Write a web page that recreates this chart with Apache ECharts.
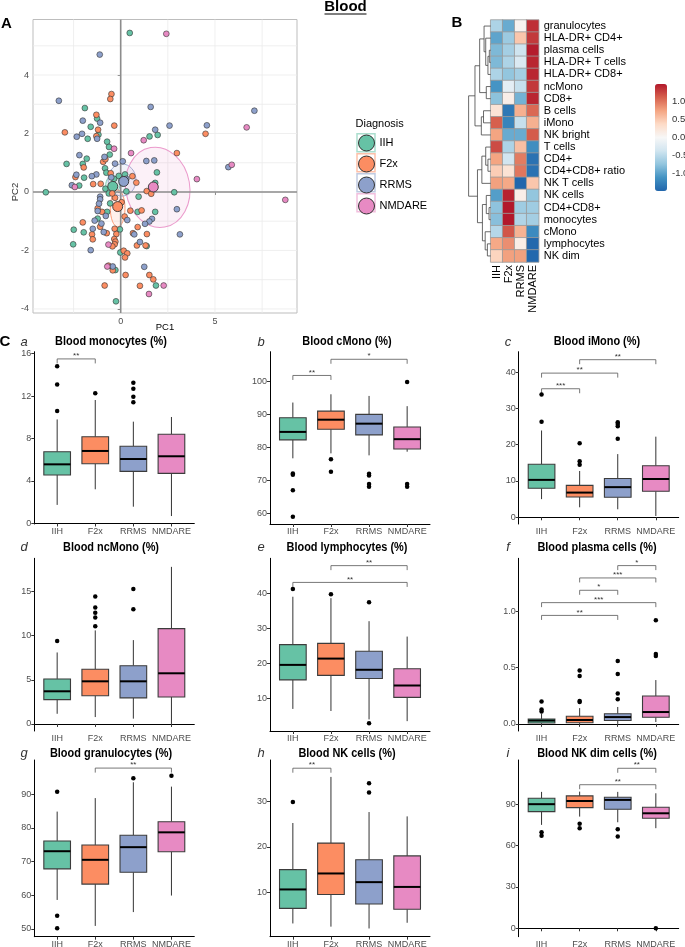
<!DOCTYPE html>
<html><head><meta charset="utf-8">
<script src="https://cdn.jsdelivr.net/npm/echarts@6/dist/echarts.min.js"></script>
<style>html,body{margin:0;padding:0;background:#fff}#c{width:685px;height:947px}</style>
</head><body><div id="c"></div>
<script>
const SANS = "'Liberation Sans', Arial, Helvetica, sans-serif";
const NARROW = "'Liberation Sans Narrow', 'Arial Narrow', 'Liberation Sans', Arial, sans-serif";

const GROUPS = ['IIH', 'F2x', 'RRMS', 'NMDARE'];
const COLORS = ['#66C2A5', '#FC8D62', '#8DA0CB', '#E78AC3'];

// ---------- Panel A: PCA ----------
const PCA_IIH = [[0.48,5.44],[-1.90,2.87],[-1.25,2.51],[-1.59,2.23],[-1.75,1.82],[-1.18,1.96],[1.53,1.90],[1.96,1.95],[-0.72,1.72],[-0.62,1.54],[-1.80,1.14],[-0.58,1.28],[-2.87,0.96],[-2.01,0.96],[-1.94,0.49],[-0.83,0.81],[-0.76,0.66],[0.23,0.60],[1.92,0.67],[-2.20,0.22],[-3.97,-0.01],[-0.81,0.11],[-0.63,-0.05],[1.83,0.31],[2.84,-0.01],[0.30,0.02],[0.95,-0.16],[-0.56,-0.39],[-0.72,-0.68],[0.90,-0.68],[1.83,-0.68],[-1.22,-0.91],[-2.49,-1.29],[-1.96,-1.38],[-0.04,-1.28],[1.38,-1.85],[-2.52,-1.79],[-0.02,-2.07],[-0.39,-2.64],[-0.28,-2.67],[1.87,-3.20],[-0.25,-3.74],[-0.35,0.45],[-0.10,0.55],[0.10,0.30]];
const PCA_F2X = [[-0.49,3.35],[-0.55,3.18],[-1.29,2.64],[-0.34,2.27],[-1.20,2.13],[-2.96,2.04],[4.50,1.99],[-1.29,1.91],[2.98,1.33],[-1.96,0.84],[-0.93,1.03],[-0.81,1.12],[-2.40,0.51],[-0.53,0.64],[0.62,0.54],[-1.46,0.27],[-1.06,0.28],[0.83,0.32],[1.38,0.03],[1.62,-0.06],[-1.22,-0.56],[-0.99,-0.68],[0.51,-0.64],[1.11,-0.63],[0.21,-0.84],[-2.01,-1.04],[-1.52,-1.45],[-1.48,-1.62],[-1.09,-1.19],[-0.74,-1.41],[-0.32,-1.26],[-0.23,-1.44],[-0.34,-1.61],[-0.28,-1.70],[-0.32,-1.79],[-0.44,-1.86],[0.65,-1.41],[0.90,-1.20],[1.39,-1.44],[0.86,-1.83],[1.32,-1.83],[0.16,-2.01],[0.35,-2.10],[0.23,-2.24],[-0.65,-2.52],[-0.42,-2.68],[0.26,-2.84],[1.52,-2.84],[1.73,-2.99],[1.02,-3.21],[-0.85,-3.20],[-0.30,-0.20],[0.05,-0.35],[-0.45,-0.05]];
const PCA_RRMS = [[-1.11,4.70],[-3.28,3.12],[1.59,2.91],[7.09,2.78],[-1.09,2.37],[-2.01,2.44],[2.59,2.27],[4.57,2.28],[1.83,2.13],[-2.33,1.89],[-2.05,1.99],[-1.25,1.82],[-2.19,1.26],[-0.86,1.20],[0.11,1.05],[1.36,1.06],[1.78,1.08],[-0.30,0.97],[5.71,0.85],[-2.35,0.59],[-1.29,0.60],[-1.53,0.54],[-2.59,0.23],[-1.09,-0.16],[-1.09,-0.25],[-1.15,-0.40],[-1.22,-0.65],[2.98,-0.59],[-0.79,-0.82],[0.35,-0.96],[1.66,-0.92],[1.52,-1.01],[1.29,-1.09],[-1.38,-0.98],[-1.02,-1.08],[-1.48,-1.26],[-0.90,-1.37],[0.72,-1.45],[1.02,-1.71],[3.14,-1.45],[-1.59,-1.99],[-0.42,-2.55],[1.25,-2.56],[-0.50,0.50],[0.30,0.45]];
const PCA_NMDARE = [[2.42,5.41],[6.68,2.21],[1.22,1.77],[-0.35,1.48],[0.55,1.33],[5.89,0.93],[4.04,0.44],[-2.43,0.17],[8.73,-0.27],[-0.65,-1.80],[-0.71,-2.55],[2.28,-3.20],[1.50,-3.49]];
const PCA_MEANS = [[-0.42,0.19],[-0.16,-0.50],[0.16,0.36],[1.73,0.17]];
// ellipse: [cx, cy, rx, ry, rotationDeg]
const PCA_ELLIPSES = [[-0.42,0.24,0.37,0.31,0],[-0.16,-0.56,0.39,0.63,0],[0.07,0.41,0.74,0.55,0],[1.96,0.16,1.70,1.38,-10]];
const PCA_XGRID = [-2.5, 0, 2.5, 5, 7.5];
const PCA_YGRID = [-4, -3, -2, -1, 0, 1, 2, 3, 4, 5];
const PCA_XTICKS = [0, 5];
const PCA_YTICKS = [-4, -2, 0, 2, 4];

// ---------- Panel B: heatmap ----------
const HEAT_ROWS = ['granulocytes','HLA-DR+ CD4+','plasma cells','HLA-DR+ T cells','HLA-DR+ CD8+','ncMono','CD8+','B cells','iMono','NK bright','T cells','CD4+','CD4+CD8+ ratio','NK T cells','NK cells','CD4+CD8+','monocytes','cMono','lymphocytes','NK dim'];
const HEAT = [
  [-0.60,-0.95,0.05,1.35],
  [-1.00,-0.70,0.50,1.30],
  [-0.85,-0.65,-0.40,1.45],
  [-0.85,-0.60,-0.30,1.40],
  [-0.60,-0.75,-0.65,1.40],
  [-1.12,-0.20,-0.45,1.30],
  [-0.78,0.10,-0.90,1.40],
  [0.25,-1.35,0.65,1.05],
  [1.10,-1.25,-0.45,0.65],
  [0.73,-0.95,-0.95,1.12],
  [1.20,-0.60,0.55,-1.17],
  [0.73,-0.38,0.95,-1.40],
  [0.45,0.25,0.98,-1.40],
  [0.75,0.70,-1.50,0.50],
  [-1.05,1.42,0.10,-0.75],
  [-0.77,1.47,-0.68,-0.68],
  [-0.80,1.47,-0.58,-0.65],
  [-0.55,1.15,0.63,-1.20],
  [0.70,0.85,0.12,-1.48],
  [0.40,0.75,0.75,-1.48]
];
// dendrogram merges: [childA, childB, height]; ids >= 20 are earlier merges
const TREE_MERGES = [[2,3,0.25],[20,4,0.5],[1,21,0.9],[0,22,1.2],[5,6,0.8],[23,24,2.0],[7,8,1.3],[26,9,1.7],[25,27,2.85],[11,12,0.5],[10,29,0.9],[30,13,1.6],[15,16,0.3],[14,32,0.8],[18,19,0.6],[17,34,1.0],[33,35,1.5],[31,36,2.4],[28,37,4.0]];
const COLORBAR_TICKS = [-1, -0.5, 0, 0.5, 1];
const RDBU = ['#2166AC','#4393C3','#92C5DE','#D1E5F0','#F7F7F7','#FDDBC7','#F4A582','#D6604D','#B2182B'];

// ---------- Panel C: box plots [x, low, q1, median, q3, high] ----------
const BOX_A = [[1,1.75,4.57,5.57,6.76,9.8],[2,3.22,5.63,6.83,8.17,11.63],[3,1.58,4.91,6.07,7.27,9.59],[4,0.7,4.72,6.33,8.4,10.03]];
const OUT_A = [[10.6,13.1,14.8],[12.26],[11.41,11.94,12.7,13.26],[]];
const SIG_A = [[1,2,15.5]]; const SIGLAB_A = ['**'];

const BOX_B = [[1,76.6,82.2,84.6,88.9,93.5],[2,78.1,85.4,88.3,90.9,96.0],[3,77.5,83.7,87.1,89.9,95.5],[4,78.6,79.4,82.4,86.1,92.4]];
const OUT_B = [[72.0,71.6,66.9,58.9],[76.3,72.5],[71.9,71.4,68.8,68.0],[99.7,68.8,68.0]];
const SIG_B = [[1,2,101.7],[2,4,106.6]]; const SIGLAB_B = ['**','*'];

const BOX_C = [[1,5.0,8.0,10.3,14.6,23.9],[2,2.75,5.6,6.8,8.8,12.75],[3,2.2,5.5,8.3,10.7,17.4],[4,0.35,7.15,10.55,14.2,22.2]];
const OUT_C = [[26.3,33.8],[20.4,15.4,14.5],[26.2,25.7,25.1,21.6],[]];
const SIG_C = [[1,2,35.4],[1,3,39.7],[2,4,43.4]]; const SIGLAB_C = ['***','**','**'];

const BOX_D = [[1,1.15,2.75,3.7,5.1,8.1],[2,0.78,3.2,4.83,6.2,10.6],[3,0.6,2.95,4.83,6.6,9.5],[4,0.0,3.05,5.74,10.8,17.8]];
const OUT_D = [[9.4],[14.45,13.2,12.6,12.07,11.08],[15.3,13.0],[]];
const SIG_D = []; const SIGLAB_D = [];

const BOX_E = [[1,7.0,15.3,19.6,25.4,39.1],[2,6.4,16.6,21.4,25.75,38.7],[3,4.0,15.7,18.2,23.5,32.1],[4,3.5,10.3,13.7,18.5,27.7]];
const OUT_E = [[41.3],[39.8],[37.5,2.9],[]];
const SIG_E = [[2,4,48.0],[1,4,43.2]]; const SIGLAB_E = ['**','**'];

const BOX_F = [[1,0.0,0.007,0.029,0.043,0.09],[2,0.0,0.01,0.034,0.067,0.14],[3,0.0,0.03,0.06,0.09,0.15],[4,0.016,0.058,0.105,0.248,0.39]];
const OUT_F = [[0.20,0.127,0.11],[0.475,0.427,0.203,0.195],[0.56,0.445,0.27,0.22],[0.924,0.623,0.605]];
const SIG_F = [[3,4,1.41],[2,4,1.30],[2,3,1.19],[1,4,1.08],[1,3,0.966]]; const SIGLAB_F = ['*','***','*','***','**'];

const BOX_G = [[1,58.6,67.8,73.05,76.1,84.8],[2,50.9,63.3,70.5,74.9,88.8],[3,55.0,66.8,74.25,77.8,93.5],[4,59.9,72.9,78.65,81.8,92.2]];
const OUT_G = [[90.7,53.9,50.2],[],[94.7],[95.4]];
const SIG_G = [[2,4,97.7]]; const SIGLAB_G = ['**'];

const BOX_H = [[1,3.2,6.5,10.65,15.0,25.2],[2,2.5,9.55,14.15,20.8,35.3],[3,2.1,7.45,12.25,17.15,27.6],[4,3.35,6.3,11.2,18.0,26.65]];
const OUT_H = [[29.8],[],[33.9,31.9],[]];
const SIG_H = [[1,2,37.2]]; const SIGLAB_H = ['**'];

const BOX_I = [[1,74.9,84.5,89.9,94.2,98.8],[2,80.9,87.4,92.2,95.9,99.0],[3,76.8,86.2,93.0,94.9,98.8],[4,72.5,79.7,83.3,87.7,97.8]];
const OUT_I = [[69.6,67.1],[75.8,72.5],[71.7,66.4],[0]];
const SIG_I = [[3,4,115.9],[2,4,104]]; const SIGLAB_I = ['**','**'];

const PANEL_TITLES = ['Blood monocytes (%)','Blood cMono (%)','Blood iMono (%)','Blood ncMono (%)','Blood lymphocytes (%)','Blood plasma cells (%)','Blood granulocytes (%)','Blood NK cells (%)','Blood NK dim cells (%)'];
const PANEL_LETTERS = ['a','b','c','d','e','f','g','h','i'];
const Y_MIN = [-0.05, 56.7, -1.85, -0.8, 0.68, -0.064, 47.7, 0.3, -6.1];
const Y_MAX = [16.18, 108.9, 45.6, 18.77, 50.1, 1.475, 100.1, 39.0, 121.9];
const Y_TICKS = [[0,4,8,12,16],[60,70,80,90,100],[0,10,20,30,40],[0,5,10,15],[10,20,30,40],[0,0.5,1.0],[50,60,70,80,90],[10,20,30],[0,30,60,90]];
const Y_DEC = [0,0,0,0,0,1,0,0,0];
const X_TICKS = [1,2,3,4];

const BOXES = [BOX_A,BOX_B,BOX_C,BOX_D,BOX_E,BOX_F,BOX_G,BOX_H,BOX_I];
const OUTS = [OUT_A,OUT_B,OUT_C,OUT_D,OUT_E,OUT_F,OUT_G,OUT_H,OUT_I];
const SIGS = [SIG_A,SIG_B,SIG_C,SIG_D,SIG_E,SIG_F,SIG_G,SIG_H,SIG_I];
const SIGLABS = [SIGLAB_A,SIGLAB_B,SIGLAB_C,SIGLAB_D,SIGLAB_E,SIGLAB_F,SIGLAB_G,SIGLAB_H,SIGLAB_I];

// ---------- layout ----------
const COL_LEFT = [34.3, 270, 518.7];
const COL_W = 160;
const ROW_TOP = [351.7, 558.3, 760];
const ROW_BOT = [524, 731, 936.7];
const TITLE_X = [111, 347, 597];
const TITLE_Y = [342, 547.7, 753.3];
const LETTER_X = [24, 261, 508];

function alpha(hex, a) {
  const n = parseInt(hex.slice(1), 16);
  return 'rgba(' + ((n >> 16) & 255) + ',' + ((n >> 8) & 255) + ',' + (n & 255) + ',' + a + ')';
}

const grids = [], xAxes = [], yAxes = [], series = [], graphics = [];
const G = (o) => Object.assign({containLabel: false, outerBoundsMode: 'none'}, o);

// ===== PCA grid 0 =====
grids.push(G({left: 33, top: 19.5, width: 264, height: 293.5, show: true, borderColor: '#bdbdbd', borderWidth: 1, backgroundColor: '#fff'}));
xAxes.push({gridIndex: 0, type: 'value', min: -4.65, max: 9.35, axisLine: {show: false}, splitLine: {show: false},
  axisTick: {show: true, length: 3, lineStyle: {color: '#555'}, customValues: PCA_XTICKS},
  axisLabel: {customValues: PCA_XTICKS, fontSize: 9, color: '#4d4d4d', margin: 4, fontFamily: SANS}});
yAxes.push({gridIndex: 0, type: 'value', min: -4.14, max: 5.90, axisLine: {show: false}, splitLine: {show: false},
  axisTick: {show: true, length: 3, lineStyle: {color: '#555'}, customValues: PCA_YTICKS},
  axisLabel: {customValues: PCA_YTICKS, fontSize: 9, color: '#4d4d4d', margin: 4, fontFamily: SANS}});

series.push({type: 'custom', xAxisIndex: 0, yAxisIndex: 0, silent: true, z: 1,
  data: PCA_XGRID.map(v => [v, 0]),
  renderItem: (p, api) => { const x = api.coord([api.value(0), 0])[0]; const cs = p.coordSys;
    return {type: 'line', shape: {x1: x, y1: cs.y, x2: x, y2: cs.y + cs.height}, style: {stroke: '#ebebeb', lineWidth: 0.8}}; }});
series.push({type: 'custom', xAxisIndex: 0, yAxisIndex: 0, silent: true, z: 1,
  data: PCA_YGRID.map(v => [0, v]),
  renderItem: (p, api) => { const y = api.coord([0, api.value(1)])[1]; const cs = p.coordSys;
    return {type: 'line', shape: {x1: cs.x, y1: y, x2: cs.x + cs.width, y2: y}, style: {stroke: '#ebebeb', lineWidth: 0.8}}; }});
series.push({type: 'custom', xAxisIndex: 0, yAxisIndex: 0, silent: true, z: 2,
  data: PCA_ELLIPSES,
  renderItem: (p, api) => {
    const c = api.coord([api.value(0), api.value(1)]);
    const s = api.size([api.value(2), api.value(3)]);
    const i = p.dataIndex;
    return {type: 'ellipse', x: c[0], y: c[1], rotation: -api.value(4) * Math.PI / 180,
      shape: {cx: 0, cy: 0, rx: s[0], ry: s[1]},
      style: {fill: alpha(COLORS[i], 0.12), stroke: alpha(COLORS[i], 0.85), lineWidth: 1}};
  }});
series.push({type: 'custom', xAxisIndex: 0, yAxisIndex: 0, silent: true, z: 2,
  data: [[0, 0]],
  renderItem: (p, api) => { const c = api.coord([api.value(0), api.value(1)]); const cs = p.coordSys;
    return {type: 'group', children: [
      {type: 'line', shape: {x1: c[0], y1: cs.y, x2: c[0], y2: cs.y + cs.height}, style: {stroke: '#8c8c8c', lineWidth: 1.6}},
      {type: 'line', shape: {x1: cs.x, y1: c[1], x2: cs.x + cs.width, y2: c[1]}, style: {stroke: '#8c8c8c', lineWidth: 1.6}}]}; }});
const PCA_PTS = [PCA_IIH, PCA_F2X, PCA_RRMS, PCA_NMDARE];
GROUPS.forEach((g, i) => {
  series.push({type: 'scatter', name: g, xAxisIndex: 0, yAxisIndex: 0, z: 3, silent: true,
    symbol: 'circle', symbolSize: 5.8,
    itemStyle: {color: COLORS[i], borderColor: '#333', borderWidth: 0.6, opacity: 1},
    data: PCA_PTS[i].concat([{value: PCA_MEANS[i], symbolSize: 10, itemStyle: {borderWidth: 0.9}}])});
});

// ===== Heatmap grid 1 =====
grids.push(G({left: 490.7, top: 20, width: 48, height: 242}));
xAxes.push({gridIndex: 1, type: 'category', data: GROUPS, position: 'bottom', axisLine: {show: false}, axisTick: {show: false}, splitLine: {show: false},
  axisLabel: {rotate: 90, margin: 3, fontSize: 11, color: '#000', fontFamily: SANS, interval: 0}});
yAxes.push({gridIndex: 1, type: 'category', data: HEAT_ROWS, inverse: true, position: 'right', axisLine: {show: false}, axisTick: {show: false}, splitLine: {show: false},
  axisLabel: {margin: 5, fontSize: 11, color: '#000', fontFamily: SANS, interval: 0}});
const heatData = [];
HEAT.forEach((row, r) => row.forEach((v, c) => heatData.push([c, r, v])));
const HEAT_SERIES = series.length;
series.push({type: 'heatmap', xAxisIndex: 1, yAxisIndex: 1, data: heatData, silent: true,
  itemStyle: {borderColor: '#9a9a9a', borderWidth: 0.8}});

// ===== Dendrogram grid 2 =====
grids.push(G({left: 462, top: 20, width: 28.7, height: 242}));
xAxes.push({gridIndex: 2, type: 'value', min: 0, max: 5.2, inverse: true, show: false});
yAxes.push({gridIndex: 2, type: 'value', min: -0.5, max: 19.5, inverse: true, show: false});
const nodeY = [], nodeH = [];
for (let i = 0; i < HEAT_ROWS.length; i++) { nodeY[i] = i; nodeH[i] = 0; }
const DEND_SEGS = [];
TREE_MERGES.forEach((m, k) => {
  const a = m[0], b = m[1], h = m[2], id = HEAT_ROWS.length + k;
  DEND_SEGS.push([nodeH[a], nodeY[a], h, nodeY[a]]);
  DEND_SEGS.push([nodeH[b], nodeY[b], h, nodeY[b]]);
  DEND_SEGS.push([h, nodeY[a], h, nodeY[b]]);
  nodeY[id] = (nodeY[a] + nodeY[b]) / 2; nodeH[id] = h;
});
series.push({type: 'custom', xAxisIndex: 2, yAxisIndex: 2, silent: true, data: DEND_SEGS,
  encode: {x: [0, 2], y: [1, 3]},
  renderItem: (p, api) => { const s = api.coord([api.value(0), api.value(1)]); const e = api.coord([api.value(2), api.value(3)]);
    return {type: 'line', shape: {x1: s[0], y1: s[1], x2: e[0], y2: e[1]}, style: {stroke: '#444', lineWidth: 0.8}}; }});

// ===== Colorbar label axis grid 3 =====
grids.push(G({left: 655, top: 84, width: 12, height: 107}));
xAxes.push({gridIndex: 3, type: 'value', show: false, min: 0, max: 1});
yAxes.push({gridIndex: 3, type: 'value', position: 'right', min: -1.5, max: 1.47, axisLine: {show: false}, axisTick: {show: false}, splitLine: {show: false},
  axisLabel: {customValues: COLORBAR_TICKS, formatter: v => Number(v).toFixed(1), margin: 5, fontSize: 9.5, color: '#333', fontFamily: SANS}});

// ===== Box plots grids 4..12 =====
function boxRender(p, api) {
  const x = api.value(0);
  const lo = api.coord([x, api.value(1)]), q1 = api.coord([x, api.value(2)]), md = api.coord([x, api.value(3)]);
  const q3 = api.coord([x, api.value(4)]), hi = api.coord([x, api.value(5)]);
  const half = api.size([0.7, 0])[0] / 2, cx = lo[0];
  return {type: 'group', children: [
    {type: 'line', shape: {x1: cx, y1: hi[1], x2: cx, y2: q3[1]}, style: {stroke: '#333', lineWidth: 1}},
    {type: 'line', shape: {x1: cx, y1: q1[1], x2: cx, y2: lo[1]}, style: {stroke: '#333', lineWidth: 1}},
    {type: 'rect', shape: {x: cx - half, y: q3[1], width: 2 * half, height: q1[1] - q3[1]}, style: {fill: COLORS[p.dataIndex], stroke: '#3c3c3c', lineWidth: 1.1}},
    {type: 'line', shape: {x1: cx - half, y1: md[1], x2: cx + half, y2: md[1]}, style: {stroke: '#000', lineWidth: 2}}
  ]};
}
function sigRender(labels) {
  return function (p, api) {
    const y = api.value(2);
    const p1 = api.coord([api.value(0), y]), p2 = api.coord([api.value(1), y]);
    const d = 4.5;
    return {type: 'group', children: [
      {type: 'polyline', shape: {points: [[p1[0], p1[1] + d], [p1[0], p1[1]], [p2[0], p2[1]], [p2[0], p2[1] + d]]}, style: {stroke: '#555', lineWidth: 0.8, fill: null}},
      {type: 'text', x: (p1[0] + p2[0]) / 2, y: p1[1] + 1, style: {text: labels[p.dataIndex], fill: '#333', font: '8px ' + SANS, textAlign: 'center', align: 'center', textVerticalAlign: 'bottom', verticalAlign: 'bottom'}}
    ]};
  };
}

for (let k = 0; k < 9; k++) {
  const r = Math.floor(k / 3), c = k % 3, gi = 4 + k;
  grids.push(G({left: COL_LEFT[c], top: ROW_TOP[r], width: COL_W, height: ROW_BOT[r] - ROW_TOP[r]}));
  xAxes.push({gridIndex: gi, type: 'value', min: 0.4, max: 4.6, splitLine: {show: false},
    axisLine: {show: true, lineStyle: {color: '#000', width: 1}},
    axisTick: {show: true, length: 3, lineStyle: {color: '#333'}, customValues: X_TICKS},
    axisLabel: {customValues: X_TICKS, formatter: v => GROUPS[Math.round(v) - 1], margin: 3, fontSize: 9, color: '#4d4d4d', fontFamily: NARROW}});
  const dec = Y_DEC[k];
  yAxes.push({gridIndex: gi, type: 'value', min: Y_MIN[k], max: Y_MAX[k], splitLine: {show: false},
    axisLine: {show: true, lineStyle: {color: '#000', width: 1}},
    axisTick: {show: true, length: 3, lineStyle: {color: '#333'}, customValues: Y_TICKS[k]},
    axisLabel: {customValues: Y_TICKS[k], formatter: v => Number(v).toFixed(dec), margin: 3, fontSize: 9, color: '#4d4d4d', fontFamily: NARROW}});
  series.push({type: 'custom', xAxisIndex: gi, yAxisIndex: gi, silent: true, data: BOXES[k],
    encode: {x: 0, y: [1, 2, 3, 4, 5]}, renderItem: boxRender});
  const outs = [];
  OUTS[k].forEach((arr, g) => arr.forEach(v => outs.push([g + 1, v])));
  series.push({type: 'scatter', xAxisIndex: gi, yAxisIndex: gi, silent: true, symbolSize: 4.5, data: outs,
    itemStyle: {color: '#000', opacity: 1}});
  if (SIGS[k].length) {
    series.push({type: 'custom', xAxisIndex: gi, yAxisIndex: gi, silent: true, data: SIGS[k],
      encode: {x: [0, 1], y: 2}, renderItem: sigRender(SIGLABS[k])});
  }
  graphics.push({type: 'text', x: TITLE_X[c], y: TITLE_Y[r], scaleX: 0.875, silent: true,
    style: {text: PANEL_TITLES[k], font: 'bold 12.5px ' + NARROW, fill: '#000', textAlign: 'center', align: 'center', textVerticalAlign: 'middle', verticalAlign: 'middle'}});
  graphics.push({type: 'text', x: LETTER_X[c], y: TITLE_Y[r], silent: true,
    style: {text: PANEL_LETTERS[k], font: 'italic 13px ' + SANS, fill: '#333', textAlign: 'center', align: 'center', textVerticalAlign: 'middle', verticalAlign: 'middle'}});
}

// ===== Text and decorations =====
function txt(t, x, y, font, extra) {
  graphics.push(Object.assign({type: 'text', x: x, y: y, silent: true,
    style: {text: t, font: font, fill: '#000', textAlign: 'center', align: 'center', textVerticalAlign: 'middle', verticalAlign: 'middle'}}, extra || {}));
}
txt('Blood', 345.5, 7, 'bold 15px ' + SANS);
graphics.push({type: 'line', silent: true, shape: {x1: 324.5, y1: 14, x2: 366.5, y2: 14}, style: {stroke: '#000', lineWidth: 1.2}});
txt('A', 6.5, 24, 'bold 15px ' + SANS);
txt('B', 457, 23, 'bold 15px ' + SANS);
txt('C', 5, 342, 'bold 15px ' + SANS);
txt('PC1', 165, 327, '9.5px ' + SANS, {});
graphics.push({type: 'text', x: 15, y: 192, rotation: Math.PI / 2, silent: true,
  style: {text: 'PC2', font: '9.5px ' + SANS, fill: '#333', textAlign: 'center', align: 'center', textVerticalAlign: 'middle', verticalAlign: 'middle'}});
graphics.push({type: 'text', x: 355.5, y: 124, silent: true,
  style: {text: 'Diagnosis', font: '11px ' + SANS, fill: '#000', textAlign: 'left', align: 'left', textVerticalAlign: 'middle', verticalAlign: 'middle'}});
GROUPS.forEach((g, i) => {
  graphics.push({type: 'rect', silent: true, z: 0, shape: {x: 357, y: 133.7 + 20 * i, width: 18, height: 18},
    style: {fill: '#fff', stroke: alpha(COLORS[i], 0.55), lineWidth: 1.5}});
});

const option = {
  animation: false,
  backgroundColor: '#fff',
  textStyle: {fontFamily: SANS},
  grid: grids, xAxis: xAxes, yAxis: yAxes, series: series,
  legend: {data: GROUPS, orient: 'vertical', left: 358, top: 134.5, itemWidth: 16, itemHeight: 16, itemGap: 4, padding: 0,
    icon: 'circle', selectedMode: false, textStyle: {fontSize: 11, color: '#000', fontFamily: SANS},
    itemStyle: {borderColor: '#333', borderWidth: 1}},
  visualMap: {type: 'continuous', seriesIndex: HEAT_SERIES, min: -1.5, max: 1.47, show: true, calculable: false,
    left: 655, top: 84, itemWidth: 12, itemHeight: 107, padding: 0, hoverLink: false,
    inRange: {color: RDBU}},
  graphic: {elements: graphics}
};
const chart = echarts.init(document.getElementById('c'), null, {renderer: 'canvas', width: 685, height: 947});
chart.setOption(option);
</script></body></html>
